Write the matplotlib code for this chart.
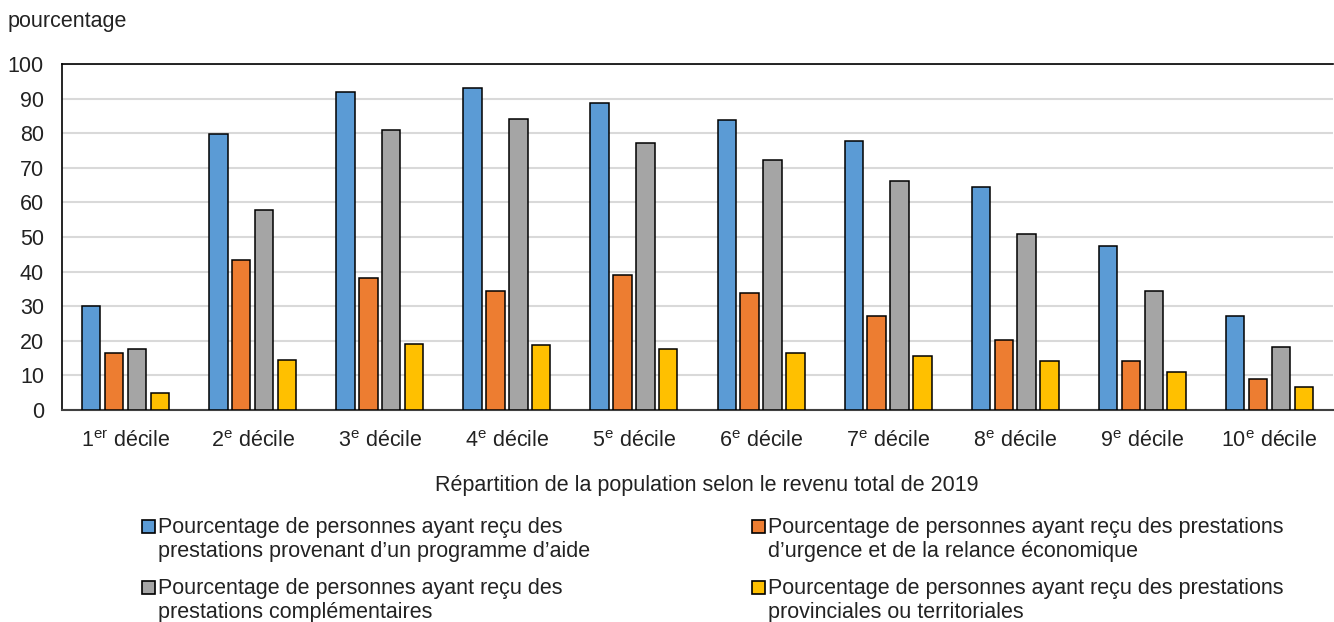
import matplotlib
matplotlib.use('Agg')
import matplotlib.pyplot as plt
import numpy as np
from matplotlib.patches import Rectangle

plt.rcParams['font.family'] = ['Liberation Sans', 'DejaVu Sans']
plt.rcParams['mathtext.fontset'] = 'custom'
plt.rcParams['mathtext.rm'] = 'Liberation Sans'

# Données
deciles = [r'1$^{\mathrm{er}}$ décile', r'2$^{\mathrm{e}}$ décile', r'3$^{\mathrm{e}}$ décile',
           r'4$^{\mathrm{e}}$ décile', r'5$^{\mathrm{e}}$ décile', r'6$^{\mathrm{e}}$ décile',
           r'7$^{\mathrm{e}}$ décile', r'8$^{\mathrm{e}}$ décile', r'9$^{\mathrm{e}}$ décile',
           r'10$^{\mathrm{e}}$ décile']
aide = [30.2, 79.7, 91.8, 93.0, 88.7, 83.8, 77.7, 64.5, 47.4, 27.1]
urgence = [16.4, 43.4, 38.1, 34.5, 39.0, 33.9, 27.3, 20.2, 14.2, 9.0]
complementaires = [17.6, 57.7, 80.9, 84.1, 77.3, 72.2, 66.2, 51.0, 34.5, 18.2]
provinciales = [4.9, 14.4, 19.2, 18.8, 17.6, 16.4, 15.6, 14.1, 10.9, 6.7]

noms = ['Pourcentage de personnes ayant reçu des\nprestations provenant d\u2019un programme d\u2019aide',
        'Pourcentage de personnes ayant reçu des prestations\nd\u2019urgence et de la relance économique',
        'Pourcentage de personnes ayant reçu des\nprestations complémentaires',
        'Pourcentage de personnes ayant reçu des prestations\nprovinciales ou territoriales']
couleurs = ['#5b9bd5', '#ed7d31', '#a5a5a5', '#ffc000']
series = [aide, urgence, complementaires, provinciales]

W, H = 1334, 622
fs = 15.5
fig = plt.figure(figsize=(W / 100, H / 100), dpi=100)
ax = fig.add_axes([62 / W, (H - 410) / H, (W - 63) / W, (410 - 64) / H])

x = np.arange(len(deciles))
largeur = 0.145
pas = 0.18
for i, (vals, c) in enumerate(zip(series, couleurs)):
    ax.bar(x + (i - 1.5) * pas, vals, largeur, color=c, edgecolor='black', linewidth=1.1, zorder=3)

ax.set_xlim(-0.5, len(deciles) - 0.5)
ax.set_ylim(0, 100)
ax.set_yticks(range(0, 101, 10))
ax.yaxis.grid(True, color='#d9d9d9', linewidth=1.5, zorder=0)
ax.set_xticks(x)
ax.set_xticklabels(deciles)
ax.tick_params(axis='both', length=0, labelsize=fs, colors='#222222')
ax.tick_params(axis='x', pad=15)
ax.tick_params(axis='y', pad=13)
for s in ['top', 'left']:
    ax.spines[s].set_color('black')
    ax.spines[s].set_linewidth(1.2)
ax.spines['bottom'].set_color('#404040')
ax.spines['bottom'].set_linewidth(1.5)
ax.spines['right'].set_visible(False)

fig.text(8 / W, 1 - 22 / H, 'pourcentage', fontsize=fs, color='#222222', va='center', ha='left')
fig.text(707 / W, 1 - 485 / H, 'Répartition de la population selon le revenu total de 2019',
         fontsize=fs, color='#222222', va='center', ha='center')

# Légende
positions = [(142, 520), (752, 520), (142, 581), (752, 581)]
for (px, py), nom, c in zip(positions, noms, couleurs):
    fig.add_artist(Rectangle((px / W, 1 - (py + 13) / H), 13 / W, 13 / H, transform=fig.transFigure,
                             facecolor=c, edgecolor='black', linewidth=1.2))
    fig.text((px + 16) / W, 1 - (py - 3) / H, nom, fontsize=fs, color='#222222',
             va='top', ha='left', linespacing=1.2)

fig.savefig('out.png', dpi=100)
